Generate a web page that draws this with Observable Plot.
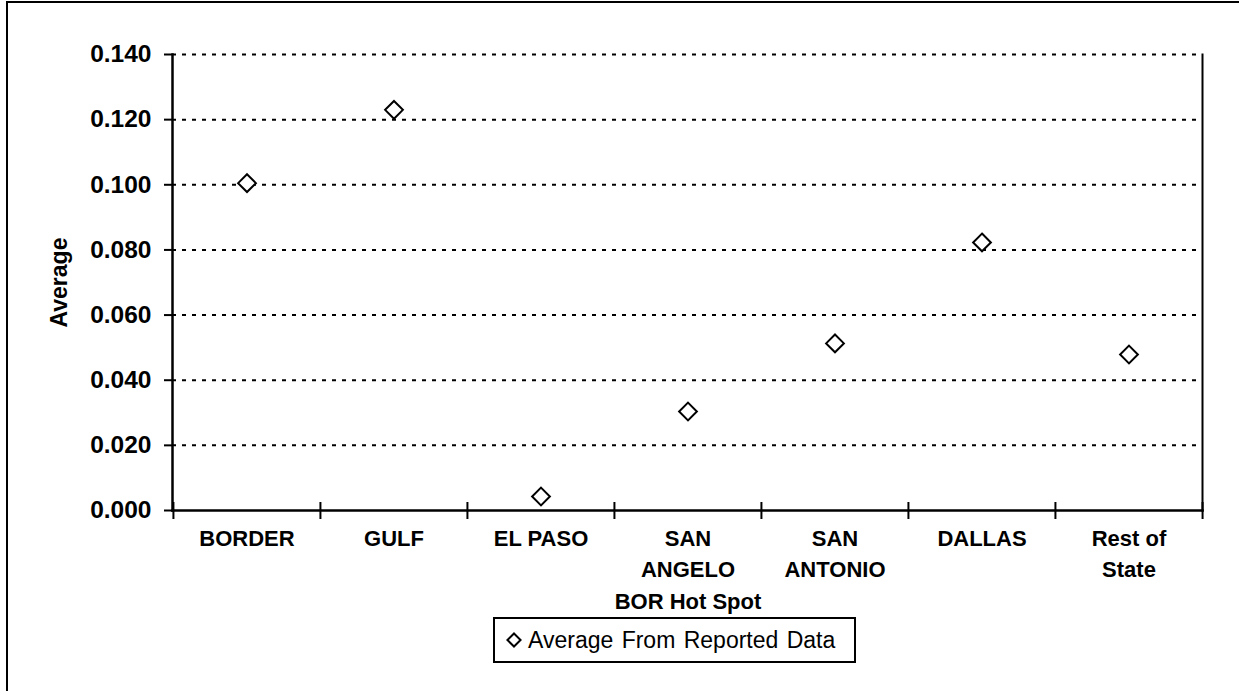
<!DOCTYPE html>
<html>
<head>
<meta charset="utf-8">
<script src="https://cdn.jsdelivr.net/npm/d3@7"></script>
<script src="https://cdn.jsdelivr.net/npm/@observablehq/plot@0.6"></script>
<style>
  body { margin: 0; background: #fff; font-family: Arial, "Liberation Sans", sans-serif; }
  #wrap { position: relative; width: 1247px; height: 691px; overflow: hidden; background: #fff; }
  #frame { position: absolute; left: 6px; top: 1px; width: 1231px; height: 720px; border-top: 2px solid #000; border-left: 2px solid #000; }
  #chart { position: absolute; left: 0; top: 0; }
  #legend { position: absolute; left: 493px; top: 617px; width: 363px; height: 46px; box-sizing: border-box;
            border: 2px solid #000; background: #fff; display: flex; align-items: center; font-size: 23px; word-spacing: 2px; color: #000; white-space: nowrap; }
  #legend svg { margin-left: 9px; margin-right: 4px; }
</style>
</head>
<body>
<div id="wrap">
  <div id="frame"></div>
  <div id="chart"></div>
  <div id="legend"></div>
</div>
<script>
const categories = ["BORDER", "GULF", "EL PASO", "SAN\nANGELO\nBOR Hot Spot", "SAN\nANTONIO", "DALLAS", "Rest of\nState"];
const averages = [0.1005, 0.123, 0.0043, 0.0304, 0.0513, 0.0823, 0.0479];
const yTicks = [0, 0.02, 0.04, 0.06, 0.08, 0.10, 0.12, 0.14];
const seriesName = "Average From Reported Data";
const yLabel = "Average";

const data = categories.map((c, i) => ({category: c, value: averages[i]}));

const W = 1247, H = 691;
const mL = 172, mR = 45, mT = 54, mB = 181;
const bw = (W - mL - mR) / categories.length;
const font = 'Arial, "Liberation Sans", sans-serif';

const chart = Plot.plot({
  width: W,
  height: H,
  marginLeft: mL,
  marginRight: mR,
  marginTop: mT,
  marginBottom: mB,
  style: {fontFamily: font, fontWeight: "bold", color: "#000", background: "transparent", overflow: "visible"},
  x: {type: "band", domain: categories, padding: 0},
  y: {domain: [0, 0.14]},
  marks: [
    Plot.ruleY(yTicks.filter(d => d > 0), {stroke: "#000", strokeWidth: 2, strokeDasharray: "4,6"}),
    Plot.frame({anchor: "left", stroke: "#000", strokeWidth: 2.5}),
    Plot.frame({anchor: "bottom", stroke: "#000", strokeWidth: 2.5}),
    Plot.frame({anchor: "right", stroke: "#000", strokeWidth: 2}),
    Plot.ruleX(categories, {x: d => d, dx: -bw / 2, y1: 0, y2: 0, insetTop: -8, insetBottom: -9, stroke: "#000", strokeWidth: 2}),
    Plot.ruleX(categories.slice(-1), {x: d => d, dx: bw / 2, y1: 0, y2: 0, insetTop: -8, insetBottom: -9, stroke: "#000", strokeWidth: 2}),
    Plot.axisY({ticks: yTicks, tickFormat: d3.format(".3f"), tickSize: 8, tickPadding: 13, fontSize: 24.5, fontWeight: "bold", label: null, stroke: "#000", strokeWidth: 2}),
    Plot.axisX({tickSize: 0, tickPadding: 13, fontSize: 22, fontWeight: "bold", lineHeight: 1.43, label: null}),
    Plot.text([yLabel], {frameAnchor: "left", textAnchor: "middle", dx: -113, rotate: -90, fontSize: 23, fontWeight: "bold", fill: "#000"}),
    Plot.dot(data, {x: "category", y: "value", symbol: "diamond2", r: 8, stroke: "#000", strokeWidth: 2, fill: "#fff"})
  ]
});
document.getElementById("chart").appendChild(chart);

const legend = document.getElementById("legend");
const ls = d3.create("svg").attr("width", 20).attr("height", 20);
ls.append("path")
  .attr("d", d3.symbol(d3.symbolDiamond2, 110)())
  .attr("transform", "translate(10,10)")
  .attr("fill", "#fff").attr("stroke", "#000").attr("stroke-width", 2);
legend.appendChild(ls.node());
const lt = document.createElement("span");
lt.textContent = seriesName;
legend.appendChild(lt);
</script>
</body>
</html>
